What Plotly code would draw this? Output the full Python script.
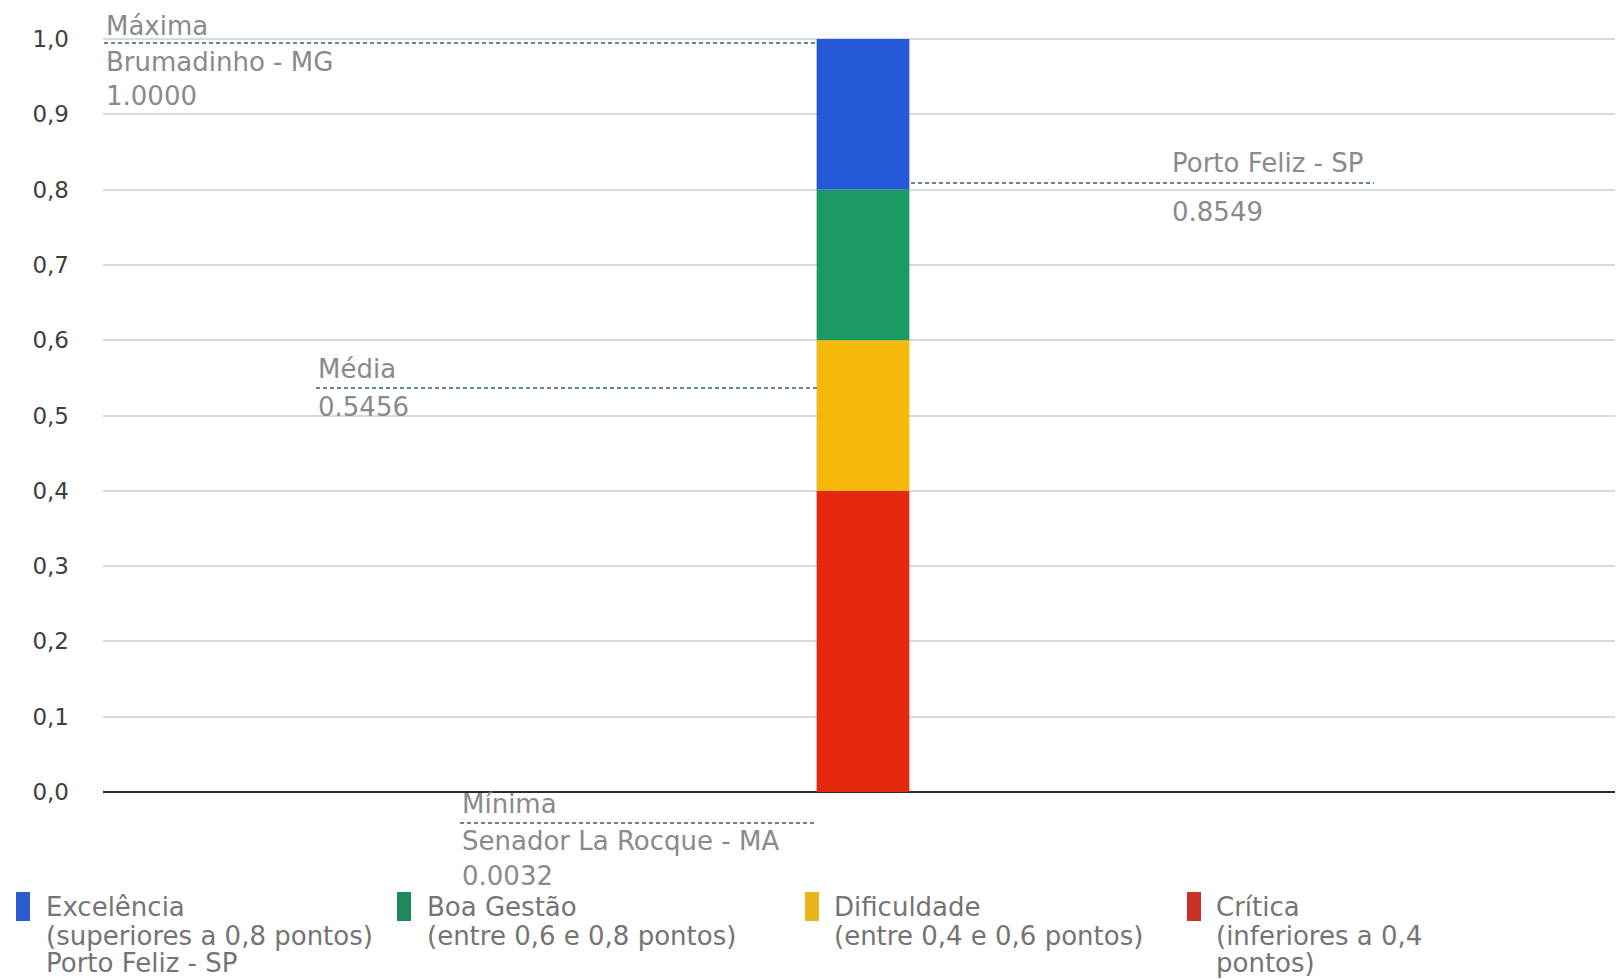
import plotly.graph_objects as go

# ---------------- data ----------------
bands = ["Crítica", "Dificuldade", "Boa Gestão", "Excelência"]
band_low = [0.0, 0.4, 0.6, 0.8]
band_high = [0.4, 0.6, 0.8, 1.0]
band_colors = ["#e5290f", "#f6b90a", "#1b9a66", "#2659d8"]
legend_colors = ["#c8302a", "#e9b41c", "#1e8a5c", "#2c5bcf"]
legend_sub = [["(inferiores a 0,4", "pontos)"], ["(entre 0,4 e 0,6 pontos)"],
              ["(entre 0,6 e 0,8 pontos)"], ["(superiores a 0,8 pontos)", "Porto Feliz - SP"]]

ref_titles = ["Máxima", "Média", "Mínima", ""]
ref_places = ["Brumadinho - MG", "", "Senador La Rocque - MA", "Porto Feliz - SP"]
ref_values = [1.0000, 0.5456, 0.0032, 0.8549]

y_ticks = [0.0, 0.1, 0.2, 0.3, 0.4, 0.5, 0.6, 0.7, 0.8, 0.9, 1.0]
y_ticktext = [f"{v:.1f}".replace(".", ",") for v in y_ticks]

# ---------------- layout geometry ----------------
# the page body adds an 8px offset; screen coordinates are converted below
OFF = 8
SW, SH = 1623, 979
W, H = SW - OFF, SH - OFF
S_LEFT, S_TOP, S_BOTTOM = 103, 20, 885   # plot area on screen
L = S_LEFT - OFF
T = S_TOP - OFF
B = SH - S_BOTTOM
PW = W - L
PH = H - T - B
S_Y0 = 792           # screen row of value 0
PX_PER_UNIT = 753.0
y_top = (S_Y0 - S_TOP) / PX_PER_UNIT
y_bot = -(S_BOTTOM - S_Y0) / PX_PER_UNIT


def sx(px):
    return (px - S_LEFT) / PW


def sy(py):
    return (S_BOTTOM - py) / PH


fig = go.Figure()
for name, lo, hi, col in zip(bands, band_low, band_high, band_colors):
    fig.add_trace(go.Bar(x=[0.5], y=[hi - lo], base=[lo], width=0.061,
                         marker=dict(color=col, line=dict(width=0)),
                         name=name, showlegend=False, hoverinfo="skip"))

txt_font = dict(family="DejaVu Sans", size=26, color="#8a8a8a")
dash_line = dict(color="#35645a", width=1.5, dash="4px,3px")

# label placements on screen: (text-left, title row, line row, line x0, line x1, place row, value row)
placements = [
    (104, 26, 43, 104, 818, 62, 96),        # Máxima
    (316, 369, 388, 316, 818, None, 407),    # Média
    (460, 804, 823, 460, 816, 841, 876),     # Mínima
    (1170, None, 183, 911, 1374, 163, 212),  # Porto Feliz
]

for title, place, val, pl in zip(ref_titles, ref_places, ref_values, placements):
    tx, ty, ly, lx0, lx1, py, vy = pl
    fig.add_shape(type="line", xref="paper", yref="paper",
                  x0=sx(lx0), x1=sx(lx1), y0=sy(ly), y1=sy(ly), line=dash_line)
    if title:
        fig.add_annotation(x=sx(tx), y=sy(ty), xref="paper", yref="paper",
                           text=title, showarrow=False, xanchor="left", yanchor="middle",
                           font=txt_font)
    if place:
        fig.add_annotation(x=sx(tx), y=sy(py), xref="paper", yref="paper",
                           text=place, showarrow=False, xanchor="left", yanchor="middle",
                           font=txt_font)
    fig.add_annotation(x=sx(tx), y=sy(vy), xref="paper", yref="paper",
                       text=f"{val:.4f}", showarrow=False, xanchor="left", yanchor="middle",
                       font=txt_font)

# custom legend (left to right: Excelência, Boa Gestão, Dificuldade, Crítica)
leg_sw_x = [16, 397, 805, 1187]
leg_tx_x = [44, 425, 832, 1214]
leg_rows = [907, 936, 963]
order = [3, 2, 1, 0]
leg_font = dict(family="DejaVu Sans", size=26, color="#747474")
for swx, tx, i in zip(leg_sw_x, leg_tx_x, order):
    fig.add_shape(type="rect", xref="paper", yref="paper",
                  x0=sx(swx), x1=sx(swx + 14), y0=sy(921), y1=sy(892),
                  fillcolor=legend_colors[i], line=dict(width=0))
    lines = [bands[i]] + legend_sub[i]
    for row, line in zip(leg_rows, lines):
        fig.add_annotation(x=sx(tx), y=sy(row), xref="paper", yref="paper",
                           text=line, showarrow=False, xanchor="left", yanchor="middle",
                           font=leg_font)

fig.update_layout(
    width=W, height=H,
    margin=dict(l=L, r=0, t=T, b=B, pad=0),
    paper_bgcolor="white", plot_bgcolor="white",
    barmode="overlay", showlegend=False,
    xaxis=dict(range=[0, 1], showgrid=False, zeroline=False, showticklabels=False,
               showline=False, fixedrange=True),
    yaxis=dict(range=[y_bot, y_top], tickvals=y_ticks, ticktext=y_ticktext,
               showgrid=True, gridcolor="#d9d9d9", gridwidth=1.5,
               zeroline=True, zerolinecolor="#2b2b2b", zerolinewidth=2,
               showline=False, ticks="", ticklabelstandoff=33,
               tickfont=dict(family="DejaVu Sans", size=23, color="#3f3f3f")),
)

fig.write_html("out.html")
